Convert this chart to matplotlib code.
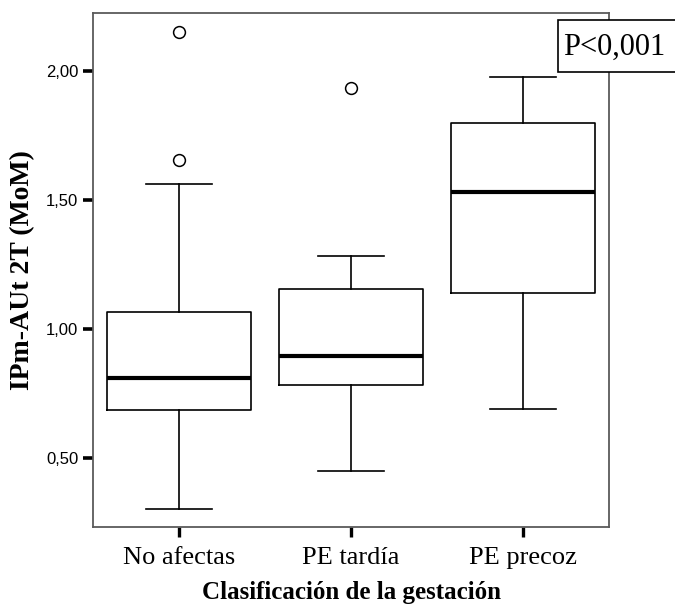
import matplotlib

matplotlib.use("Agg")

import matplotlib.pyplot as plt
from matplotlib.patches import Rectangle
from matplotlib.ticker import FuncFormatter

# Grupos y estadísticos del diagrama de cajas (IPm-AUt 2T en MoM)
grupos = ["No afectas", "PE tardía", "PE precoz"]
minimos = [0.302, 0.447, 0.690]
q1 = [0.684, 0.781, 1.141]
medianas = [0.811, 0.895, 1.533]
q3 = [1.065, 1.155, 1.799]
maximos = [1.564, 1.285, 1.979]
atipicos = [[1.656, 2.152], [1.936], []]

y_ticks = [0.5, 1.0, 1.5, 2.0]
texto_p = "P<0,001"

SERIF = ["Liberation Serif", "DejaVu Serif"]
SANS = ["Liberation Sans", "DejaVu Sans"]

fig = plt.figure(figsize=(6.75, 6.08), dpi=100)
W, H = 675, 608
ax = fig.add_axes([93 / W, 1 - 526.7 / H, (609 - 93) / W, (526.7 - 13) / H])

stats = []
for i, g in enumerate(grupos):
    stats.append({
        "label": g, "whislo": minimos[i], "q1": q1[i], "med": medianas[i],
        "q3": q3[i], "whishi": maximos[i], "fliers": atipicos[i],
    })

linea = dict(color="black", linewidth=1.2)
ax.bxp(
    stats, positions=[1, 2, 3], widths=0.84, capwidths=0.38,
    boxprops=linea, whiskerprops=linea, capprops=linea,
    medianprops=dict(color="black", linewidth=3.0),
    flierprops=dict(marker="o", markersize=8.5, markerfacecolor="white",
                    markeredgecolor="black", markeredgewidth=1.1, linestyle="none"),
)

ax.set_xlim(0.5, 3.5)
ax.set_ylim(0.232, 2.227)
ax.set_yticks(y_ticks)
ax.yaxis.set_major_formatter(FuncFormatter(lambda v, _: f"{v:.2f}".replace(".", ",")))

for s in ax.spines.values():
    s.set_color("#5a5a5a")
    s.set_linewidth(1.3)

ax.tick_params(axis="y", direction="out", length=7.5, width=2.6, color="black",
               pad=3, labelsize=12)
ax.tick_params(axis="x", direction="out", length=7.5, width=2.4, color="black",
               pad=7, labelsize=19)
for t in ax.get_yticklabels():
    t.set_family(SANS)
for t in ax.get_xticklabels():
    t.set_family(SERIF)

ax.set_xlabel("Clasificación de la gestación", family=SERIF, fontweight="bold",
              fontsize=18, labelpad=9)
ax.set_ylabel("IPm-AUt 2T (MoM)", family=SERIF, fontweight="bold",
              fontsize=20, labelpad=8)

# Recuadro con el valor de p, recortado por el borde derecho
caja = Rectangle((558 / W, 1 - 72 / H), 140 / W, 52 / H, transform=fig.transFigure,
                 facecolor="white", edgecolor="black", linewidth=1.2,
                 zorder=10, clip_on=False)
fig.patches.append(caja)
fig.text(563 / W, 1 - 47 / H, texto_p, family=SERIF, fontsize=22,
         ha="left", va="center", zorder=11)

fig.savefig("out.png", dpi=100)
plt.close(fig)
